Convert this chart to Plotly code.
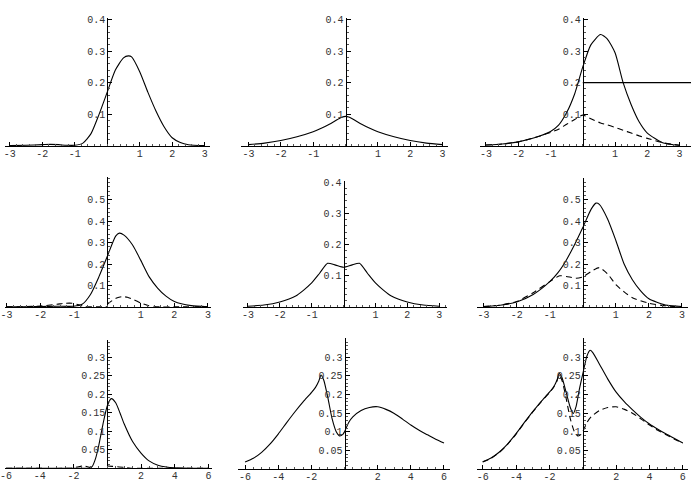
import plotly.graph_objects as go

# ---------------- data ----------------
# Panel 1 (top-left)
p1_x = [-3, -2.5, -2, -1.75, -1.5, -1.25, -1, -0.75, -0.5, -0.25, 0, 0.25, 0.5, 0.65, 0.75, 1, 1.25, 1.5, 1.75, 2, 2.25, 2.5, 3]
p1_solid = [0, 0.001, 0.003, 0.004, 0.003, 0.001, 0.001, 0.008, 0.038, 0.1, 0.17, 0.24, 0.279, 0.285, 0.282, 0.235, 0.17, 0.11, 0.06, 0.025, 0.01, 0.003, 0]

# Panel 2 (top-middle)
p2_x = [-3, -2.5, -2, -1.5, -1, -0.75, -0.5, -0.25, -0.1, 0, 0.1, 0.25, 0.5, 0.75, 1, 1.5, 2, 2.5, 3]
p2_solid = [0.003, 0.008, 0.016, 0.028, 0.044, 0.055, 0.068, 0.083, 0.091, 0.093, 0.091, 0.083, 0.068, 0.055, 0.044, 0.028, 0.016, 0.008, 0.003]

# Panel 3 (top-right)
p3_x = [-3, -2.5, -2, -1.5, -1, -0.75, -0.5, -0.25, 0, 0.25, 0.55, 0.75, 1, 1.25, 1.5, 1.75, 2, 2.5, 3]
p3_solid = [0.002, 0.005, 0.012, 0.025, 0.045, 0.065, 0.105, 0.165, 0.25, 0.32, 0.353, 0.34, 0.295, 0.2, 0.13, 0.075, 0.04, 0.008, 0.001]
p3_dashed = [0.002, 0.005, 0.012, 0.025, 0.042, 0.052, 0.068, 0.083, 0.097, 0.085, 0.072, 0.066, 0.058, 0.049, 0.04, 0.031, 0.023, 0.009, 0.001]
p3_hline_x = [0, 3.4]
p3_hline_y = [0.2, 0.2]

# Panel 4 (middle-left)
p4_x = [-3, -2.5, -2, -1.5, -1, -0.75, -0.5, -0.25, 0, 0.25, 0.36, 0.5, 0.75, 1, 1.25, 1.5, 1.75, 2, 2.5, 3]
p4_solid = [0, 0.001, 0.002, 0.003, 0.003, 0.012, 0.058, 0.14, 0.235, 0.33, 0.344, 0.335, 0.29, 0.217, 0.14, 0.088, 0.05, 0.025, 0.006, 0.001]
p4_dashed_x = [-3, -2.5, -2, -1.5, -1.25, -1.05, -0.85, -0.7, -0.5, -0.25, 0, None, 0, 0.15, 0.3, 0.45, 0.6, 0.8, 1, 1.2, 1.4, 1.6, 2, 3]
p4_dashed = [0, 0.001, 0.004, 0.012, 0.017, 0.017, 0.01, 0.002, 0, 0, 0, None, 0.012, 0.03, 0.043, 0.048, 0.045, 0.033, 0.018, 0.007, 0.002, 0, 0, 0]

# Panel 5 (centre)
p5_x = [-3, -2.5, -2, -1.5, -1.25, -1, -0.75, -0.5, -0.25, 0, 0.25, 0.5, 0.75, 1, 1.25, 1.5, 2, 2.5, 3]
p5_solid = [0.002, 0.006, 0.016, 0.035, 0.054, 0.077, 0.108, 0.14, 0.134, 0.127, 0.134, 0.14, 0.108, 0.077, 0.054, 0.035, 0.016, 0.006, 0.002]

# Panel 6 (middle-right)
p6_x = [-3, -2.5, -2, -1.5, -1, -0.75, -0.5, -0.25, 0, 0.25, 0.4, 0.5, 0.75, 1, 1.25, 1.5, 1.75, 2, 2.5, 3]
p6_solid = [0.002, 0.008, 0.023, 0.058, 0.118, 0.16, 0.218, 0.29, 0.37, 0.455, 0.484, 0.478, 0.41, 0.31, 0.2, 0.127, 0.075, 0.038, 0.009, 0.002]
p6_dashed_x = [-3, -2.5, -2, -1.5, -1, -0.7, -0.5, -0.2, 0, 0.25, 0.5, 0.75, 1, 1.25, 1.5, 2, 2.5, 3]
p6_dashed = [0.002, 0.008, 0.025, 0.066, 0.118, 0.145, 0.142, 0.134, 0.14, 0.165, 0.183, 0.154, 0.104, 0.07, 0.043, 0.017, 0.005, 0.001]

# Panel 7 (bottom-left)
p7_x = [-6, -4, -2, -1.1, -0.9, -0.7, -0.5, -0.25, 0, 0.24, 0.5, 0.75, 1, 1.5, 2, 2.5, 3, 3.5, 4, 5, 6]
p7_solid = [0, 0, 0, 0, 0.004, 0.025, 0.062, 0.12, 0.168, 0.188, 0.177, 0.15, 0.12, 0.072, 0.041, 0.019, 0.008, 0.003, 0.001, 0, 0]
p7_dashed_x = [-6, -2.2, -1.8, -1.4, -1.0, -0.7, None, 0, 0.3, 0.6, 1.0, 1.4, 6]
p7_dashed = [0, 0, 0.003, 0.006, 0.002, 0, None, 0.006, 0.005, 0.004, 0.002, 0, 0]

# Panel 8 (bottom-middle) -- also the dashed curve of panel 9
p8_x = [-6, -5.5, -5, -4.5, -4, -3.5, -3, -2.5, -2, -1.75, -1.55, -1.42, -1.25, -1, -0.75, -0.5, -0.3, -0.1, 0, 0.25, 0.5, 1, 1.5, 2, 2.5, 3, 3.5, 4, 4.5, 5, 5.5, 6]
p8_solid = [0.019, 0.029, 0.045, 0.067, 0.094, 0.124, 0.153, 0.18, 0.205, 0.219, 0.236, 0.252, 0.238, 0.19, 0.135, 0.1, 0.089, 0.093, 0.1, 0.125, 0.14, 0.157, 0.165, 0.167, 0.16, 0.149, 0.134, 0.118, 0.104, 0.092, 0.08, 0.07]

# Panel 9 (bottom-right)
p9_x = [-6, -5.5, -5, -4.5, -4, -3.5, -3, -2.5, -2, -1.75, -1.55, -1.42, -1.25, -1, -0.75, -0.57, -0.4, -0.2, 0, 0.25, 0.44, 0.6, 1, 1.5, 2, 2.5, 3, 3.5, 4, 4.5, 5, 5.5, 6]
p9_solid = [0.02, 0.03, 0.046, 0.068, 0.095, 0.125, 0.154, 0.181, 0.206, 0.22, 0.238, 0.256, 0.245, 0.206, 0.165, 0.149, 0.168, 0.215, 0.255, 0.303, 0.318, 0.312, 0.281, 0.241, 0.206, 0.18, 0.158, 0.138, 0.121, 0.107, 0.094, 0.082, 0.07]

# tick labels
xt_small = [-3, -2, -1, 1, 2, 3]
xt_large = [-6, -4, -2, 2, 4, 6]
yt_04 = [0.1, 0.2, 0.3, 0.4]
yt_05 = [0.1, 0.2, 0.3, 0.4, 0.5]
yt_03 = [0.05, 0.1, 0.15, 0.2, 0.25, 0.3]

# ---------------- layout geometry (pixels) ----------------
W, H = 691, 483
panels = [
    dict(x0=103, xu=32.7, y0=144, yu=320, xlo=-3.2, xhi=3.18, yhi=0.405, xt=xt_small, yt=yt_04, xm=0.2, ym=0.02),
    dict(x0=343, xu=32.6, y0=144, yu=320, xlo=-3.22, xhi=3.16, yhi=0.405, xt=xt_small, yt=yt_04, xm=0.2, ym=0.02),
    dict(x0=582, xu=32.5, y0=144, yu=320, xlo=-3.2, xhi=3.4, yhi=0.405, xt=xt_small, yt=yt_04, xm=0.2, ym=0.02),
    dict(x0=103, xu=33.8, y0=308, yu=218, xlo=-3.2, xhi=3.1, yhi=0.605, xt=xt_small, yt=yt_05, xm=0.2, ym=0.02),
    dict(x0=341, xu=32.1, y0=308, yu=317, xlo=-3.15, xhi=3.24, yhi=0.403, xt=xt_small, yt=yt_04, xm=0.2, ym=0.02),
    dict(x0=582, xu=33.3, y0=308, yu=218, xlo=-3.2, xhi=3.18, yhi=0.6, xt=xt_small, yt=yt_05, xm=0.2, ym=0.02),
    dict(x0=103, xu=17.0, y0=472, yu=376, xlo=-6.4, xhi=6.2, yhi=0.348, xt=xt_large, yt=yt_03, xm=0.5, ym=0.01),
    dict(x0=342, xu=16.7, y0=473, yu=380, xlo=-6.4, xhi=6.35, yhi=0.35, xt=xt_large, yt=yt_03, xm=0.5, ym=0.01),
    dict(x0=582, xu=16.8, y0=473, yu=380, xlo=-6.37, xhi=6.3, yhi=0.35, xt=xt_large, yt=yt_03, xm=0.5, ym=0.01),
]

curves = [
    [(p1_x, p1_solid, "solid")],
    [(p2_x, p2_solid, "solid")],
    [(p3_x, p3_dashed, "dash"), (p3_x, p3_solid, "solid"), (p3_hline_x, p3_hline_y, "solid")],
    [(p4_dashed_x, p4_dashed, "dash"), (p4_x, p4_solid, "solid")],
    [(p5_x, p5_solid, "solid")],
    [(p6_dashed_x, p6_dashed, "dash"), (p6_x, p6_solid, "solid")],
    [(p7_dashed_x, p7_dashed, "dash"), (p7_x, p7_solid, "solid")],
    [(p8_x, p8_solid, "solid")],
    [(p8_x, p8_solid, "dash"), (p9_x, p9_solid, "solid")],
]

fig = go.Figure()
font = dict(family="Liberation Mono, Courier New, monospace", size=10, color="#333333")
EPS = 1.0

def fmt(v):
    return "%g" % v

layout = {}
for i, (p, cs) in enumerate(zip(panels, curves)):
    n = "" if i == 0 else str(i + 1)
    left_px = max(0.0, p["x0"] + p["xlo"] * p["xu"])
    right_px = min(float(W), p["x0"] + p["xhi"] * p["xu"])
    xlo = (left_px - p["x0"]) / p["xu"]
    xhi = (right_px - p["x0"]) / p["xu"]
    bottom_px = p["y0"] + EPS
    top_px = p["y0"] - p["yhi"] * p["yu"]
    ylo = -EPS / p["yu"]
    for (xs, ys, dash) in cs:
        fig.add_trace(go.Scatter(
            x=xs, y=ys, mode="lines", xaxis="x" + n, yaxis="y" + n,
            line=dict(color="black", width=1.1, dash="6px,4px" if dash == "dash" else "solid",
                      shape="spline", smoothing=0.6),
            connectgaps=False, showlegend=False, hoverinfo="skip"))
    layout["xaxis" + n] = dict(
        domain=[left_px / W, right_px / W], range=[xlo, xhi],
        anchor="free", position=1 - p["y0"] / H,
        showline=True, linecolor="black", linewidth=1, showgrid=False, zeroline=False,
        ticks="inside", ticklen=4, tickcolor="black", tickwidth=1,
        tickmode="array", tickvals=p["xt"], ticktext=[fmt(v) for v in p["xt"]],
        tickfont=font, ticklabeloverflow="allow", ticklabelstandoff=-2,
        minor=dict(ticks="inside", ticklen=2, tickcolor="#555555", dtick=p["xm"], tick0=0),
    )
    layout["yaxis" + n] = dict(
        domain=[1 - bottom_px / H, 1 - top_px / H], range=[ylo, p["yhi"]],
        anchor="free", position=p["x0"] / W,
        showline=True, linecolor="black", linewidth=1, showgrid=False, zeroline=False,
        ticks="inside", ticklen=4, tickcolor="black", tickwidth=1,
        tickmode="array", tickvals=p["yt"], ticktext=[fmt(v) for v in p["yt"]],
        tickfont=font, ticklabeloverflow="allow",
        minor=dict(ticks="inside", ticklen=2, tickcolor="#555555", dtick=p["ym"], tick0=0),
    )

fig.update_layout(
    width=W, height=H, margin=dict(l=0, r=0, t=0, b=0),
    paper_bgcolor="white", plot_bgcolor="white", showlegend=False,
    **layout)

fig.write_html("out.html")
